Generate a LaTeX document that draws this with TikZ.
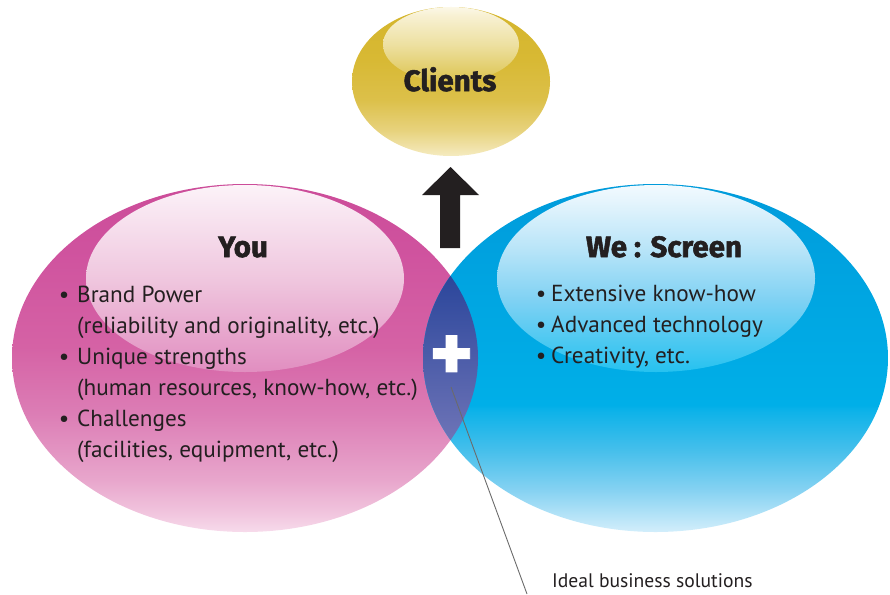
\documentclass[tikz,border=0pt]{standalone}
\usepackage{fontspec}
\setmainfont{PT Sans}
\newfontfamily\bodyfont{PT Sans}
\newfontfamily\titlefont[FakeBold=1.8]{Fira Sans Bold}
\newfontfamily\plusfont[FakeBold=1.0]{Fira Sans Bold}
\definecolor{ink}{HTML}{231F20}
% You
\definecolor{youA}{HTML}{F7DBEB}\definecolor{youB}{HTML}{F1C5DE}\definecolor{youC}{HTML}{E8A6CC}
\definecolor{youD}{HTML}{DC7DB5}\definecolor{youE}{HTML}{D562A5}\definecolor{youF}{HTML}{CF529E}\definecolor{youG}{HTML}{CC4C99}
\definecolor{yhA}{HTML}{E18EC0}\definecolor{yhB}{HTML}{EFC6DE}\definecolor{yhC}{HTML}{FAEBF4}\definecolor{yhD}{HTML}{FCF3F8}
% We
\definecolor{weA}{HTML}{D3EEFB}\definecolor{weB}{HTML}{86D2F2}\definecolor{weC}{HTML}{45BFEB}\definecolor{weD}{HTML}{0CB2E9}
\definecolor{weE}{HTML}{00AFE8}\definecolor{weF}{HTML}{00A6E2}\definecolor{weG}{HTML}{009BDB}
\definecolor{whA}{HTML}{26C2F0}\definecolor{whB}{HTML}{7ED1F3}\definecolor{whC}{HTML}{B7E4F8}\definecolor{whD}{HTML}{E6F5FD}\definecolor{whE}{HTML}{F2FAFE}
% Clients
\definecolor{clA}{HTML}{F5EBC0}\definecolor{clB}{HTML}{E7D27C}\definecolor{clC}{HTML}{DCC04A}\definecolor{clD}{HTML}{D8B934}\definecolor{clE}{HTML}{D4B52C}
\definecolor{chA}{HTML}{DCC34E}\definecolor{chB}{HTML}{EDE0A0}\definecolor{chC}{HTML}{F8F1D4}\definecolor{chD}{HTML}{FCF8E8}
% lens
\definecolor{lensT}{HTML}{2B469B}\definecolor{lensB}{HTML}{6E74B7}
\definecolor{leader}{HTML}{6B6B6B}

\pgfdeclareverticalshading{youshade}{100bp}{color(0bp)=(youA); color(25bp)=(youA); color(27.7bp)=(youB); color(32.5bp)=(youC); color(42.1bp)=(youD); color(51.6bp)=(youE); color(66bp)=(youF); color(75bp)=(youG); color(100bp)=(youG)}
\pgfdeclareverticalshading{youhl}{100bp}{color(0bp)=(yhA); color(25bp)=(yhA); color(49.6bp)=(yhB); color(71bp)=(yhC); color(75bp)=(yhD); color(100bp)=(yhD)}
\pgfdeclareverticalshading{weshade}{100bp}{color(0bp)=(weA); color(25bp)=(weA); color(31bp)=(weB); color(36.8bp)=(weC); color(42.5bp)=(weD); color(43.2bp)=(weE); color(58.3bp)=(weF); color(75bp)=(weG); color(100bp)=(weG)}
\pgfdeclareverticalshading{wehl}{100bp}{color(0bp)=(whA); color(25bp)=(whA); color(44bp)=(whB); color(57.6bp)=(whC); color(71bp)=(whD); color(75bp)=(whE); color(100bp)=(whE)}
\pgfdeclareverticalshading{clshade}{100bp}{color(0bp)=(clA); color(25bp)=(clA); color(33.7bp)=(clB); color(43.8bp)=(clC); color(57.2bp)=(clD); color(75bp)=(clE); color(100bp)=(clE)}
\pgfdeclareverticalshading{clhl}{100bp}{color(0bp)=(chA); color(25bp)=(chA); color(49.7bp)=(chB); color(69.7bp)=(chC); color(75bp)=(chD); color(100bp)=(chD)}

\tikzset{
  titletext/.style={font=\titlefont\fontsize{29.5}{34}\selectfont, text=ink, inner sep=0pt, anchor=base},
  bodytext/.style={font=\bodyfont\fontsize{23.2}{27}\selectfont, text=ink, inner sep=0pt, anchor=base west},
  bullettext/.style={font=\bodyfont\fontsize{23.2}{27}\selectfont, text=ink, inner sep=0pt, anchor=base},
  notetext/.style={font=\bodyfont\fontsize{19.6}{23}\selectfont, text=ink, inner sep=0pt, anchor=base west},
}
\begin{document}
\begin{tikzpicture}[x=1pt,y=-1pt]
\useasboundingbox (0,0) rectangle (890,594);
% ellipses
\shade[shading=youshade] (245,358) ellipse [x radius=233pt, y radius=174pt];
\shade[shading=weshade] (655.5,358) ellipse [x radius=232.5pt, y radius=174pt];
\shade[shading=youhl] (245,278.5) ellipse [x radius=159pt, y radius=93.5pt];
\shade[shading=wehl] (656,278.5) ellipse [x radius=159pt, y radius=93.5pt];
% lens
\begin{scope}
  \clip (245,358) ellipse [x radius=233pt, y radius=174pt];
  \clip (655.5,358) ellipse [x radius=232.5pt, y radius=174pt];
  \shade[top color=lensT, bottom color=lensB] (410,276) rectangle (490,441);
\end{scope}
% clients
\shade[shading=clshade] (451,81.5) ellipse [x radius=99pt, y radius=74.5pt];
\shade[shading=clhl] (451,44.5) ellipse [x radius=68pt, y radius=37.5pt];
% arrow
\fill[ink] (440,248) -- (440,195) -- (422,195) -- (450.5,167) -- (479,195) -- (460,195) -- (460,248) -- cycle;
% titles
\node[titletext] (clients) at (450,91) {Clients};
\node[titletext] (you) at (243,257) {You};
\node[titletext] (we) at (664,257) {We : Screen};
% left list
\node[bullettext] (yb1) at (64,302) {•};
\node[bodytext] (y1) at (77,302) {Brand Power};
\node[bodytext] (y2) at (77,333) {(reliability and originality, etc.)};
\node[bullettext] (yb3) at (64,364) {•};
\node[bodytext] (y3) at (77,364) {Unique strengths};
\node[bodytext] (y4) at (77,395) {(human resources, know-how, etc.)};
\node[bullettext] (yb5) at (64,426) {•};
\node[bodytext] (y5) at (77,426) {Challenges};
\node[bodytext] (y6) at (77,457) {(facilities, equipment, etc.)};
% right list
\node[bullettext] (wb1) at (541,301) {•};
\node[bodytext] (w1) at (551,301) {Extensive know-how};
\node[bullettext] (wb2) at (541,332) {•};
\node[bodytext] (w2) at (551,332) {Advanced technology};
\node[bullettext] (wb3) at (541,363) {•};
\node[bodytext] (w3) at (551,363) {Creativity, etc.};
% plus and leader
\node[font=\plusfont\fontsize{84}{86}\selectfont, text=white, inner sep=0pt] (plus) at (451.5,358.5) {+};
\coordinate (leadstart) at (451,387);
\coordinate (leadend) at (527,594);
\draw[leader, line width=0.9pt] (leadstart) -- (leadend);
\node[notetext] (ideal) at (552,587) {Ideal business solutions};
\end{tikzpicture}
\end{document}
